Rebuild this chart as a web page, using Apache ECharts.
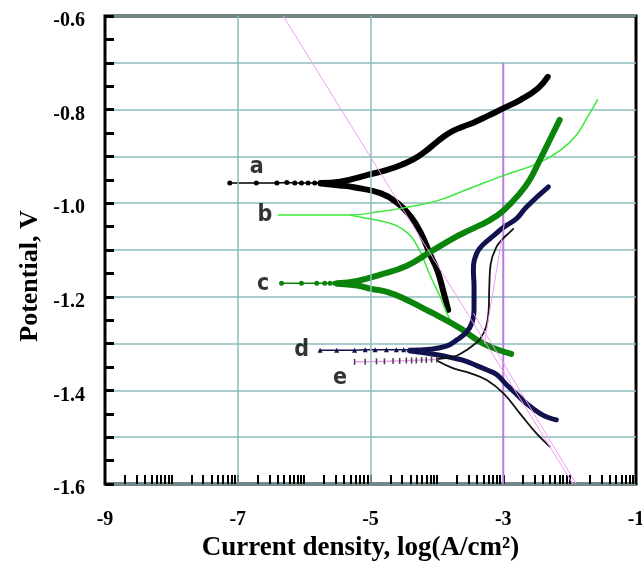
<!DOCTYPE html>
<html>
<head>
<meta charset="utf-8">
<script src="https://cdn.jsdelivr.net/npm/echarts@6/dist/echarts.min.js"></script>
<style>html,body{margin:0;padding:0;background:#fff}#c{width:642px;height:564px}</style>
</head>
<body>
<div id="c"></div>
<script>
// ---- tick labels ----
const xTickLabels = [-9, -7, -5, -3, -1];
const yTickLabels = [-1.6, -1.4, -1.2, -1.0, -0.8, -0.6];
const xGridValues = [-7, -5];
const curveNames = ['a', 'b', 'c', 'd', 'e'];
const labelX = [-6.715, -6.59, -6.616, -6.038, -5.461];
const labelY = [-0.922, -1.025, -1.173, -1.314, -1.374];

// ---- curve a (black) ----
const aFoot = [[-7.12,-0.957],[-6.72,-0.957],[-6.41,-0.957],[-6.26,-0.956],[-6.14,-0.957],[-6.04,-0.957],[-5.94,-0.957],[-5.84,-0.957],[-5.76,-0.957],[-5.68,-0.957]];
const aAnodic = [[-5.75,-0.957],[-5.46,-0.954],[-5.0,-0.938],[-4.75,-0.929],[-4.5,-0.916],[-4.35,-0.906],[-4.2,-0.892],[-4.05,-0.875],[-3.9,-0.858],[-3.75,-0.845],[-3.6,-0.836],[-3.45,-0.828],[-3.24,-0.814],[-3.01,-0.798],[-2.74,-0.779],[-2.48,-0.755],[-2.33,-0.73]];
const aCathodic = [[-5.75,-0.958],[-5.46,-0.962],[-5.25,-0.966],[-4.84,-0.979],[-4.59,-1.0],[-4.39,-1.029],[-4.24,-1.064],[-4.1,-1.11],[-3.99,-1.145],[-3.9,-1.19],[-3.83,-1.228]];
// ---- curve b (light green) ----
const bAnodic = [[-6.39,-1.025],[-5.3,-1.025],[-4.9,-1.019],[-4.5,-1.01],[-4.0,-0.995],[-3.5,-0.968],[-3.0,-0.941],[-2.48,-0.915],[-2.13,-0.886],[-1.9,-0.855],[-1.74,-0.818],[-1.58,-0.779]];
const bCathodic = [[-5.3,-1.026],[-5.1,-1.031],[-4.75,-1.041],[-4.5,-1.057],[-4.3,-1.09],[-4.1,-1.155],[-3.95,-1.2],[-3.8,-1.25],[-3.73,-1.26]];
// ---- curve c (dark green) ----
const cFoot = [[-6.34,-1.171],[-6.04,-1.171],[-5.81,-1.171],[-5.69,-1.171],[-5.61,-1.171],[-5.54,-1.171],[-5.47,-1.171]];
const cAnodic = [[-5.5,-1.171],[-5.2,-1.166],[-4.86,-1.153],[-4.46,-1.134],[-4.1,-1.104],[-3.74,-1.074],[-3.5,-1.057],[-3.2,-1.036],[-3.0,-1.016],[-2.75,-0.979],[-2.6,-0.95],[-2.45,-0.908],[-2.3,-0.865],[-2.15,-0.822]];
const cCathodic = [[-5.5,-1.172],[-5.2,-1.176],[-4.99,-1.183],[-4.74,-1.19],[-4.49,-1.204],[-4.16,-1.228],[-3.99,-1.24],[-3.64,-1.268],[-3.34,-1.297],[-3.1,-1.312],[-2.88,-1.322]];
// ---- curve d (navy) ----
const dFoot = [[-5.76,-1.314],[-5.51,-1.314],[-5.24,-1.314],[-5.08,-1.313],[-4.93,-1.313],[-4.76,-1.313],[-4.61,-1.313],[-4.5,-1.313],[-4.42,-1.313]];
const dAnodic = [[-4.4,-1.314],[-4.1,-1.312],[-3.85,-1.305],[-3.7,-1.292],[-3.55,-1.275],[-3.47,-1.255],[-3.44,-1.228],[-3.44,-1.178],[-3.45,-1.143],[-3.4,-1.107],[-3.3,-1.088],[-3.15,-1.07],[-3.0,-1.052],[-2.8,-1.033],[-2.65,-1.008],[-2.32,-0.965]];
const dCathodic = [[-4.4,-1.316],[-4.0,-1.324],[-3.75,-1.331],[-3.6,-1.336],[-3.4,-1.347],[-3.25,-1.356],[-3.1,-1.366],[-2.95,-1.388],[-2.8,-1.408],[-2.65,-1.428],[-2.45,-1.449],[-2.3,-1.459],[-2.2,-1.463]];
// ---- curve e (thin black) ----
const eFoot = [[-5.24,-1.339],[-5.08,-1.339],[-4.91,-1.338],[-4.79,-1.338],[-4.66,-1.337],[-4.56,-1.337],[-4.46,-1.336],[-4.38,-1.336],[-4.31,-1.336],[-4.23,-1.335],[-4.16,-1.335],[-4.08,-1.334],[-4.0,-1.334]];
const eAnodic = [[-4.0,-1.333],[-3.75,-1.328],[-3.6,-1.318],[-3.45,-1.303],[-3.35,-1.29],[-3.26,-1.265],[-3.22,-1.23],[-3.21,-1.178],[-3.19,-1.13],[-3.1,-1.093],[-3.0,-1.075],[-2.9,-1.062],[-2.85,-1.055]];
const eCathodic = [[-4.0,-1.336],[-3.75,-1.353],[-3.5,-1.363],[-3.25,-1.378],[-3.0,-1.406],[-2.75,-1.449],[-2.5,-1.492],[-2.3,-1.52]];
// ---- Tafel lines ----
const tafelA = [[-6.315,-0.6],[-1.95,-1.6]];
const tafelB = [[-3.45,-1.235],[-1.9,-1.6]];
const tafelC = [[-3.285,-1.3],[-2.98,-1.04]];
const violetLine = [[-3,-0.7],[-3,-1.6]];

// log-decade minor tick positions (axis decoration)
const logTicks = [];
for (let d = -9; d < -1; d++) for (let k = 2; k <= 10; k++) logTicks.push(d + Math.log10(k));

const serif = "'Liberation Serif','Times New Roman',serif";
const teal = '#8cbcbc';
const chart = echarts.init(document.getElementById('c'), null, {renderer: 'canvas'});

function curve(data, color, width, extra) {
  return Object.assign({
    type: 'line', data: data, showSymbol: false, smooth: 0.45, silent: true, animation: false,
    lineStyle: {color: color, width: width, cap: 'round', join: 'round'}, z: 3
  }, extra || {});
}
function foot(data, color, width, symbol, size, symColor) {
  return {
    type: 'line', data: data, smooth: false, silent: true, animation: false,
    symbol: symbol, symbolSize: size, showSymbol: true, showAllSymbol: true,
    itemStyle: {color: symColor || color, borderWidth: 0},
    lineStyle: {color: color, width: width}, z: 3
  };
}
function isMajorY(v) { return yTickLabels.some(t => Math.abs(t - v) < 1e-6); }
function isMajorX(v) { return xTickLabels.some(t => Math.abs(t - v) < 1e-6); }

chart.setOption({
  animation: false,
  backgroundColor: '#fff',
  grid: {left: 105, right: 6, top: 16, bottom: 80, show: true, borderColor: '#000', borderWidth: 3,
    backgroundColor: 'transparent', outerBoundsMode: 'none', containLabel: false},
  xAxis: [{
    type: 'value', min: -9, max: -1, interval: 2, position: 'bottom',
    axisLine: {show: false}, axisTick: {show: false}, splitLine: {show: false},
    axisLabel: {color: '#000', fontFamily: serif, fontWeight: 'bold', fontSize: 20, margin: 26, verticalAlign: 'top',
      formatter: v => isMajorX(v) ? String(v) : ''},
    name: 'Current density, log(A/cm\u00B2)', nameLocation: 'middle', nameGap: 51, nameMoveOverlap: false,
    nameTextStyle: {color: '#000', fontFamily: serif, fontWeight: 'bold', fontSize: 27, verticalAlign: 'top', padding: [0, 20, 0, 0]}
  }, {
    type: 'value', min: -9, max: -1, position: 'bottom',
    axisLine: {show: false}, splitLine: {show: false}, axisLabel: {show: false},
    axisTick: {show: true, inside: true, length: 9, customValues: logTicks, lineStyle: {color: '#000', width: 2}}
  }],
  yAxis: [{
    type: 'value', min: -1.6, max: -0.6, interval: 0.1, position: 'left',
    axisLine: {show: false}, axisTick: {show: false},
    splitLine: {show: true, lineStyle: {color: teal, width: 1.5}},
    axisLabel: {color: '#000', fontFamily: serif, fontWeight: 'bold', fontSize: 20, margin: 20,
      verticalAlign: 'top', lineHeight: 10,
      formatter: v => isMajorY(v) ? Number(v).toFixed(1) : ''},
    name: 'Potential, V', nameLocation: 'middle', nameGap: 62, nameMoveOverlap: false,
    nameTextStyle: {color: '#000', fontFamily: serif, fontWeight: 'bold', fontSize: 26, padding: [0, 52, 0, 0]}
  }, {
    type: 'value', min: -1.6, max: -0.6, interval: 0.05, position: 'left',
    axisLine: {show: false}, splitLine: {show: false}, axisLabel: {show: false},
    axisTick: {show: true, inside: true, length: 9, lineStyle: {color: '#000', width: 3}}
  }],
  series: [
    {type: 'line', data: [], silent: true, z: 1,
     markLine: {silent: true, symbol: 'none', label: {show: false}, animation: false,
       lineStyle: {color: teal, width: 1.5, type: 'solid'},
       data: xGridValues.map(v => ({xAxis: v}))}},
    {type: 'line', data: violetLine, showSymbol: false, silent: true, z: 2, lineStyle: {color: '#b87ae6', width: 2}},
    curve(aAnodic, '#000', 6),
    curve(aCathodic, '#000', 6),
    foot(aFoot, '#000', 1.5, 'circle', 5),
    curve(bAnodic, '#3ae83a', 1.5),
    curve(bCathodic, '#3ae83a', 1.5),
    curve(cAnodic, '#0b840b', 6),
    curve(cCathodic, '#0b840b', 6),
    foot(cFoot, '#0b840b', 1.5, 'circle', 5),
    curve(dAnodic, '#12124e', 5),
    curve(dCathodic, '#12124e', 5),
    foot(dFoot, '#12124e', 1.5, 'triangle', 5),
    curve(eAnodic, '#111', 1.8),
    curve(eCathodic, '#111', 1.8),
    foot(eFoot, '#f29cf2', 1.5, 'rect', [1.5, 6], '#444'),
    {type: 'line', data: tafelA, showSymbol: false, silent: true, z: 4, lineStyle: {color: '#f39cf3', width: 1}},
    {type: 'line', data: tafelB, showSymbol: false, silent: true, z: 4, lineStyle: {color: '#f39cf3', width: 1}},
    {type: 'line', data: tafelC, showSymbol: false, silent: true, z: 4, lineStyle: {color: '#f39cf3', width: 1}},
    {type: 'scatter', silent: true, z: 5, symbolSize: 0,
     data: curveNames.map((n, i) => [labelX[i], labelY[i], n]),
     label: {show: true, position: 'inside', formatter: p => p.value[2], color: '#000',
       fontFamily: "'Liberation Sans Narrow','DejaVu Sans Condensed','Liberation Sans',sans-serif", fontWeight: 'bold', fontSize: 23}}
  ]
});
</script>
</body>
</html>
